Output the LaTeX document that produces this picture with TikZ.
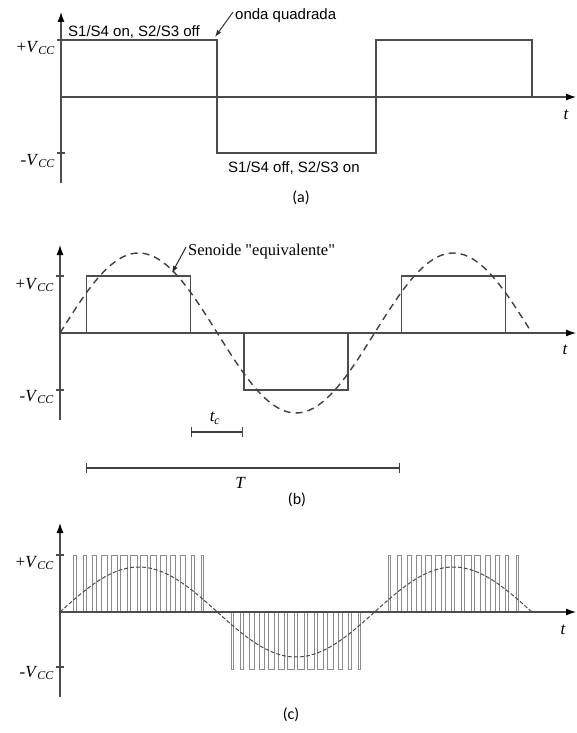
\documentclass[tikz,border=0pt]{standalone}
\usepackage{fontspec}
\setmainfont{Liberation Serif}
\newfontfamily\arialfont{Liberation Sans}
\newfontfamily\calfont{Carlito}
\usetikzlibrary{arrows.meta, positioning}

\def\Vcc{57}
\def\hp{157.3}

\begin{document}
\begin{tikzpicture}[x=1pt, y=1pt, >=Latex,
    axis/.style={line width=1.1pt, black!70, -{Latex[length=10pt, width=7pt, black]}},
    tickline/.style={line width=1.1pt, black!70},
    wave/.style={line width=1.1pt, black!70},
    pwm/.style={line width=0.8pt, black!45},
    sine/.style={line width=1.4pt, black!75, dash pattern=on 7pt off 5pt},
    sinec/.style={line width=1pt, black!70, dash pattern=on 4pt off 2pt},
    span/.style={line width=1.1pt, black!75, {Bar[width=10pt]}-{Bar[width=10pt]}},
    vlabel/.style={font=\fontsize{17}{20}\selectfont, anchor=east, inner sep=0pt},
    tlabel/.style={font=\fontsize{17}{19}\selectfont\itshape, inner sep=0pt},
    note/.style={font=\arialfont\fontsize{15}{17}\selectfont, inner sep=0pt, anchor=base west},
    caption/.style={font=\calfont\fontsize{16}{18}\selectfont, inner sep=0pt}]
  \useasboundingbox (0,0) rectangle (576,-733);

  % (a) square wave
  \begin{scope}[shift={(61,-97)}]
    \coordinate (a0) at (0,0);
    \draw[axis] (0,-86) -- (0,85);
    \draw[axis] (a0) -- (515,0);
    \draw[tickline] (-4,\Vcc) -- (4,\Vcc);
    \draw[tickline] (-4,-56) -- (4,-56);
    \draw[wave] (0,\Vcc) -- (156,\Vcc) coordinate (aedge) -- (156,-56)
      -- (315,-56) -- (315,\Vcc) -- (471,\Vcc) -- (471,0);
    \node[vlabel] (aplus) at (-6,\Vcc-8) {+\textit{V}\textsubscript{\textit{CC}}};
    \node[vlabel] (aminus) at (-6,-64) {-\textit{V}\textsubscript{\textit{CC}}};
    \node[tlabel] (at) at (505,-18) {t};
  \end{scope}
  \node[note] (aon) at (68,-37) {S1/S4 on, S2/S3 off};
  \node[note] (onda) at (235,-20) {onda quadrada};
  \node[note] (aoff) at (228,-172) {S1/S4 off, S2/S3 on};
  \draw[-{Latex[length=7pt, width=5pt]}, line width=1pt, black!80]
    ([xshift=-2pt, yshift=4pt]onda.west) -- ([xshift=-2pt, yshift=3pt]aedge);
  \node[caption] (capa) at (301,-198) {(a)};

  % (b) quasi-square wave and its sine
  \begin{scope}[shift={(60,-333)}]
    \draw[axis] (0,-87) -- (0,88);
    \draw[axis] (0,0) -- (516,0);
    \draw[tickline] (-4,\Vcc) -- (4,\Vcc);
    \draw[tickline] (-4,-\Vcc) -- (4,-\Vcc);
    \foreach \k/\s in {0/1, 1/-1, 2/1} {
      \pgfmathsetmacro\xa{\hp/2 + \k*\hp - 52}
      \draw[wave] (\xa,0) -- ++(0,\s*\Vcc) -- ++(104,0) -- ++(0,-\s*\Vcc);
    }
    \draw[sine] plot[domain=0:472, samples=120] (\x,{80*sin(\x/\hp*180)});
    \coordinate (bsine) at (112,60);
    % t_c and T brackets
    \draw[span] (131,-99) coordinate (tc1) -- (183,-99) coordinate (tc2);
    \draw[span] (26,-135) coordinate (T1) -- (340,-135) coordinate (T2);
    \node[tlabel] (tc) at (155,-85) {t\textsubscript{c}};
    \node[tlabel] (T) at (180,-150) {T};
    \node[vlabel] (bplus) at (-6,\Vcc-9) {+\textit{V}\textsubscript{\textit{CC}}};
    \node[vlabel] (bminus) at (-6,-\Vcc-7) {-\textit{V}\textsubscript{\textit{CC}}};
    \node[tlabel] (bt) at (505,-17) {t};
  \end{scope}
  \node[font=\fontsize{16.5}{18}\selectfont, inner sep=0pt, anchor=base west]
    (seno) at (188,-255) {Senoide \textquotedbl equivalente\textquotedbl};
  \draw[-{Latex[length=7pt, width=5pt]}, line width=1pt, black!85]
    ([xshift=-2pt, yshift=4pt]seno.west) -- (bsine);
  \node[caption] (capb) at (297,-500) {(b)};

  % (c) sinusoidal PWM
  \begin{scope}[shift={(60,-612)}]
    \pgfmathsetmacro\slot{(\hp-20)/14}
    \foreach \k/\s in {0/1, 1/-1, 2/1} {
      \foreach \j in {0,...,13} {
        \pgfmathsetmacro\xc{\k*\hp + 10 + (\j+0.5)*\slot}
        \pgfmathsetmacro\pw{\slot*(0.15+0.55*sin(180*(\j+0.5)/14))}
        \draw[pwm] (\xc-\pw/2,0) -- ++(0,\s*\Vcc) -- ++(\pw,0) -- ++(0,-\s*\Vcc);
      }
    }
    \draw[axis] (0,-85) -- (0,89);
    \draw[axis] (0,0) -- (516,0);
    \draw[tickline] (-4,\Vcc) -- (4,\Vcc);
    \draw[tickline] (-4,-55) -- (4,-55);
    \draw[sinec] plot[domain=0:472, samples=120] (\x,{45*sin(\x/\hp*180)});
    \node[vlabel] (cplus) at (-6,\Vcc-8) {+\textit{V}\textsubscript{\textit{CC}}};
    \node[vlabel] (cminus) at (-6,-61) {-\textit{V}\textsubscript{\textit{CC}}};
    \node[tlabel] (ct) at (503,-18) {t};
  \end{scope}
  \node[caption] (capc) at (291,-715) {(c)};
\end{tikzpicture}
\end{document}
